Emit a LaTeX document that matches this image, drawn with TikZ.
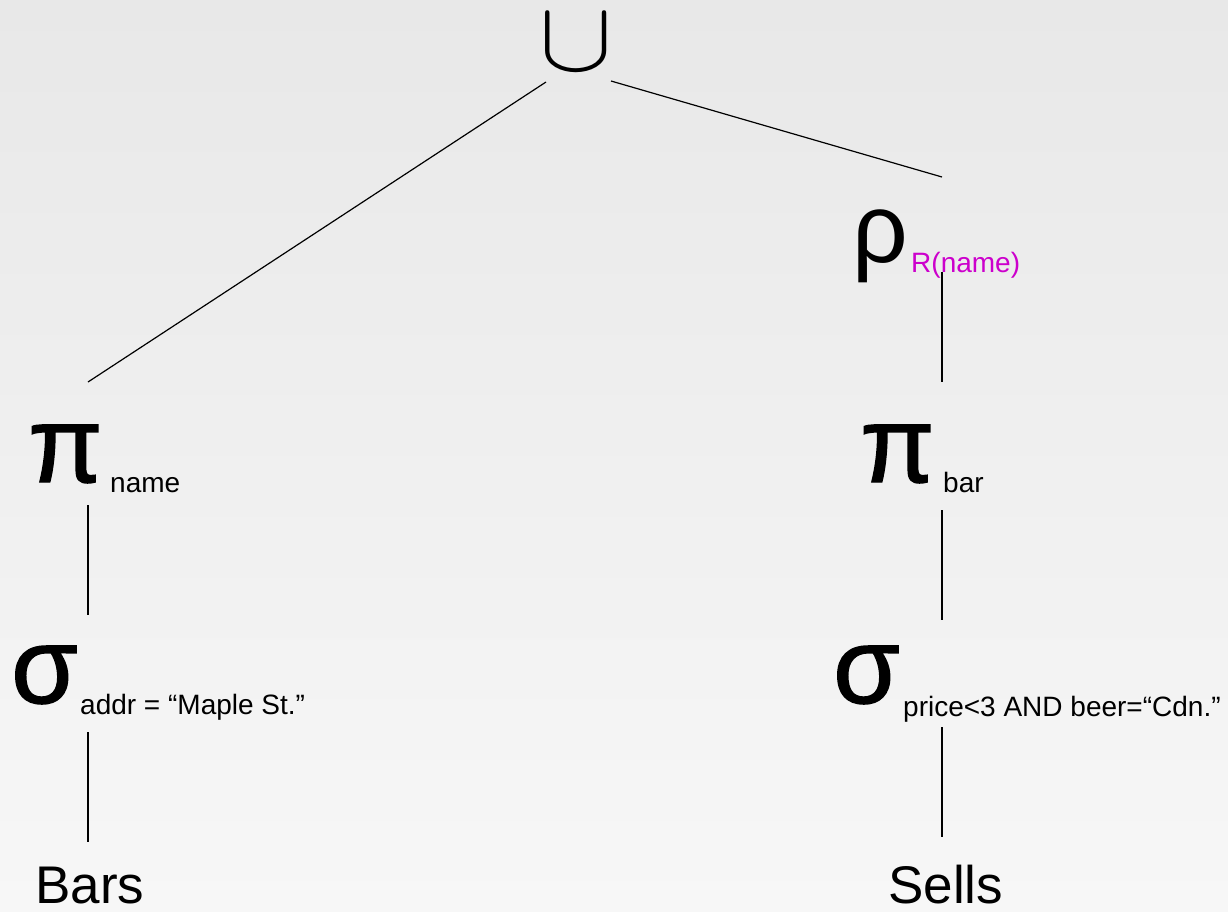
\documentclass[tikz,border=0pt]{standalone}
\usepackage{fontspec}
\setmainfont{Liberation Sans}
\newfontfamily\greekop{Liberation Sans}[FakeBold=1.3]
\definecolor{bgtop}{RGB}{232,232,232}
\definecolor{bgbot}{RGB}{247,247,247}
\definecolor{renamecol}{RGB}{204,0,204}
\begin{document}
\begin{tikzpicture}[x=1pt,y=-1pt,
  op/.style={inner sep=0pt,anchor=base west,font=\greekop\fontsize{108}{108}\selectfont},
  sub/.style={inner sep=0pt,anchor=base west,font=\fontsize{28}{28}\selectfont},
  rel/.style={inner sep=0pt,anchor=base west,font=\fontsize{53}{53}\selectfont},
  edge/.style={line width=1.2pt,black}]
% background
\shade[top color=bgtop,bottom color=bgbot] (0,0) rectangle (1228,911);
\useasboundingbox (0,0) rectangle (1228,911);

% union at the root
\node[inner sep=0pt,anchor=base] (union) at (576,70) {\scalebox{11}[10]{$\cup$}};

% left branch
\node[op] (piL) at (28,482) {π};
\node[sub] (piLsub) at (110,492) {name};
\node[op] (sigL) at (11,703) {σ};
\node[sub] (sigLsub) at (80,714) {addr = “Maple St.”};
\node[rel] (bars) at (35,903) {Bars};

% right branch
\node[op,font=\fontsize{98}{98}\selectfont] (rho) at (852,262) {ρ};
\node[sub,text=renamecol] (rhosub) at (911,272) {R(name)};
\node[op] (piR) at (860,482) {π};
\node[sub] (piRsub) at (943,492) {bar};
\node[op] (sigR) at (833,703) {σ};
\node[sub] (sigRsub) at (903,716) {price<3 AND beer=“Cdn.”};
\node[rel] (sells) at (888,903) {Sells};

% connector end points
\coordinate (u-l) at (546,82);
\coordinate (u-r) at (611,81);
\coordinate (piL-t) at (88,382);
\coordinate (piL-b) at (88,505);
\coordinate (sigL-t) at (88,615);
\coordinate (sigL-b) at (88,732);
\coordinate (bars-t) at (88,842);
\coordinate (rho-t) at (942,177);
\coordinate (rho-b) at (942,272);
\coordinate (piR-t) at (942,382);
\coordinate (piR-b) at (942,510);
\coordinate (sigR-t) at (942,620);
\coordinate (sigR-b) at (942,727);
\coordinate (sells-t) at (942,837);

% tree edges
\draw[edge] (u-l) -- (piL-t);
\draw[edge] (u-r) -- (rho-t);
\draw[edge] (piL-b) -- (sigL-t);
\draw[edge] (sigL-b) -- (bars-t);
\draw[edge] (rho-b) -- (piR-t);
\draw[edge] (piR-b) -- (sigR-t);
\draw[edge] (sigR-b) -- (sells-t);
\end{tikzpicture}
\end{document}
